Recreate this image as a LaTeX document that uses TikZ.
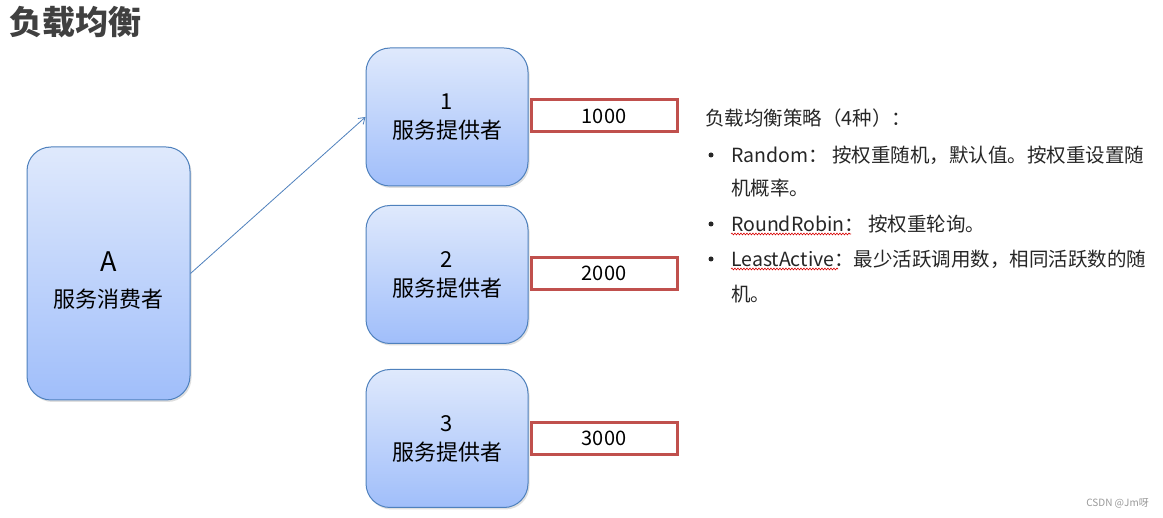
\documentclass[tikz,border=0pt]{standalone}
\usepackage{fontspec}
\setmainfont{Noto Sans CJK SC}
\usetikzlibrary{arrows.meta,shadows,decorations.pathmorphing}
\definecolor{boxtop}{HTML}{DFE9FC}
\definecolor{boxbot}{HTML}{A0BEFA}
\definecolor{boxline}{HTML}{4F81BD}
\definecolor{redline}{HTML}{C0504D}
\definecolor{titlecol}{HTML}{404040}
\definecolor{txtcol}{HTML}{262626}
\tikzset{
  bluebox/.style={draw=boxline, line width=1pt, rounded corners=24pt,
    top color=boxtop, bottom color=boxbot, align=center, inner sep=0pt,
    drop shadow={shadow xshift=1.5pt, shadow yshift=-2pt, opacity=0.25, fill=gray}},
  provbox/.style={bluebox, minimum width=162pt, minimum height=138pt,
    font=\fontsize{22}{29}\selectfont},
  weightbox/.style={draw=redline, line width=3pt, fill=white, minimum width=146pt,
    minimum height=32pt, inner sep=0pt, font=\fontsize{20}{24}\selectfont},
  listtxt/.style={anchor=west, inner sep=0pt, text=txtcol, font=\fontsize{19.5}{24}\selectfont},
  bul/.style={circle, fill=txtcol, inner sep=0pt, minimum size=5pt},
  wavy/.style={draw=red!85!black, line width=0.6pt, decorate,
    decoration={snake, amplitude=0.9pt, segment length=3pt}},
}
\begin{document}
\begin{tikzpicture}[x=1pt,y=-1pt]
\useasboundingbox (0,0) rectangle (1163,518);
\fill[white] (0,0) rectangle (1163,518);

% title
\node[anchor=west, inner sep=0pt, text=titlecol, font=\fontsize{33}{38}\selectfont\bfseries] (title) at (9,22) {负载均衡};

% consumer
\node[bluebox, minimum width=163pt, minimum height=253pt, font=\fontsize{22}{36}\selectfont] (A) at (108.5,273.5)
  {\rule{0pt}{34pt}{\fontsize{27}{30}\selectfont A}\\服务消费者};

% providers
\node[provbox] (p1) at (447,117) {1\\服务提供者};
\node[provbox] (p2) at (447,274.5) {2\\服务提供者};
\node[provbox] (p3) at (447,438.5) {3\\服务提供者};

% weights
\node[weightbox, anchor=west] (w1) at (529.5,116) {1000};
\node[weightbox, anchor=west] (w2) at (529.5,273.5) {2000};
\node[weightbox, anchor=west] (w3) at (529.5,438.5) {3000};

% connector
\draw[draw=boxline, line width=0.8pt, -{Straight Barb[length=6pt,width=8pt]}] (A.east) -- (p1.west);

% strategy text
\node[anchor=west, inner sep=0pt, text=txtcol, font=\fontsize{19.5}{24}\selectfont] (head) at (705,118) {负载均衡策略（4种）：};
\node[bul] (b1) at (711,155) {};
\node[listtxt] (l1) at (731,155) {Random： 按权重随机，默认值。按权重设置随};
\node[listtxt] (l1b) at (731,188) {机概率。};
\node[bul] (b2) at (711,224) {};
\node[listtxt] (l2) at (731,224) {RoundRobin： 按权重轮询。};
\node[bul] (b3) at (711,259) {};
\node[listtxt] (l3) at (731,259) {LeastActive：最少活跃调用数，相同活跃数的随};
\node[listtxt] (l3b) at (731,294) {机。};
\draw[wavy] (731,234) -- (851,234);
\draw[wavy] (731,269) -- (838,269);

% watermark
\node[anchor=east, inner sep=0pt, text=gray!80, font=\fontsize{10}{12}\selectfont] (wm) at (1149,503) {CSDN @Jm呀};
\end{tikzpicture}
\end{document}
